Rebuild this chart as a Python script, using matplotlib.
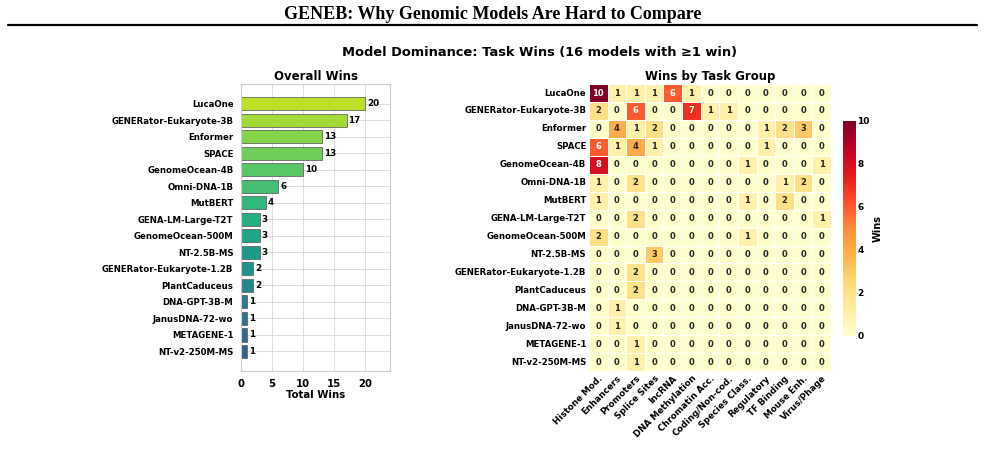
import numpy as np
import matplotlib.pyplot as plt
from matplotlib.lines import Line2D
import seaborn as sns

# modelos y grupos de tareas
models = ['LucaOne', 'GENERator-Eukaryote-3B', 'Enformer', 'SPACE', 'GenomeOcean-4B',
          'Omni-DNA-1B', 'MutBERT', 'GENA-LM-Large-T2T', 'GenomeOcean-500M', 'NT-2.5B-MS',
          'GENERator-Eukaryote-1.2B', 'PlantCaduceus', 'DNA-GPT-3B-M', 'JanusDNA-72-wo',
          'METAGENE-1', 'NT-v2-250M-MS']
groups = ['Histone Mod.', 'Enhancers', 'Promoters', 'Splice Sites', 'lncRNA',
          'DNA Methylation', 'Chromatin Acc.', 'Coding/Non-cod.', 'Species Class.',
          'Regulatory', 'TF Binding', 'Mouse Enh.', 'Virus/Phage']

# victorias por grupo (filas = modelos)
wins = [
    [10, 1, 1, 1, 6, 1, 0, 0, 0, 0, 0, 0, 0],
    [2, 0, 6, 0, 0, 7, 1, 1, 0, 0, 0, 0, 0],
    [0, 4, 1, 2, 0, 0, 0, 0, 0, 1, 2, 3, 0],
    [6, 1, 4, 1, 0, 0, 0, 0, 0, 1, 0, 0, 0],
    [8, 0, 0, 0, 0, 0, 0, 0, 1, 0, 0, 0, 1],
    [1, 0, 2, 0, 0, 0, 0, 0, 0, 0, 1, 2, 0],
    [1, 0, 0, 0, 0, 0, 0, 0, 1, 0, 2, 0, 0],
    [0, 0, 2, 0, 0, 0, 0, 0, 0, 0, 0, 0, 1],
    [2, 0, 0, 0, 0, 0, 0, 0, 1, 0, 0, 0, 0],
    [0, 0, 0, 3, 0, 0, 0, 0, 0, 0, 0, 0, 0],
    [0, 0, 2, 0, 0, 0, 0, 0, 0, 0, 0, 0, 0],
    [0, 0, 2, 0, 0, 0, 0, 0, 0, 0, 0, 0, 0],
    [0, 1, 0, 0, 0, 0, 0, 0, 0, 0, 0, 0, 0],
    [0, 1, 0, 0, 0, 0, 0, 0, 0, 0, 0, 0, 0],
    [0, 0, 1, 0, 0, 0, 0, 0, 0, 0, 0, 0, 0],
    [0, 0, 1, 0, 0, 0, 0, 0, 0, 0, 0, 0, 0],
]
total_wins = [20, 17, 13, 13, 10, 6, 4, 3, 3, 3, 2, 2, 1, 1, 1, 1]

sns.set_style('whitegrid')
plt.rcParams['font.family'] = ['DejaVu Sans']
plt.rcParams['font.weight'] = 'bold'
for k in ['text.color', 'axes.labelcolor', 'xtick.color', 'ytick.color']:
    plt.rcParams[k] = 'black'

fig = plt.figure(figsize=(9.85, 4.57), dpi=100)

# titulo de la pagina
fig.text(0.5, 0.968, 'GENEB: Why Genomic Models Are Hard to Compare', ha='center', va='center',
         family='Liberation Serif', fontsize=13, fontweight='bold')
fig.add_artist(Line2D([0.008, 0.992], [0.945, 0.945], color='black', lw=1.6))
fig.text(0.548, 0.886, 'Model Dominance: Task Wins (16 models with \u22651 win)', ha='center',
         va='center', fontsize=9.4, fontweight='bold')

# barras de victorias totales
ax1 = fig.add_axes([0.2447, 0.188, 0.1513, 0.628])
colores = plt.cm.viridis(np.linspace(0.3, 0.9, len(models)))[::-1]
ypos = np.arange(len(models))
ax1.barh(ypos, total_wins, color=colores, edgecolor='#666666', linewidth=0.6, height=0.8)
for i, v in enumerate(total_wins):
    ax1.text(v + 0.3, i, str(v), va='center', ha='left', fontsize=6.3, fontweight='bold')
ax1.set_yticks(ypos)
ax1.set_yticklabels(models, fontsize=6.2, fontweight='bold')
ax1.invert_yaxis()
ax1.set_xlim(0, 24)
ax1.set_xticks([0, 5, 10, 15, 20])
ax1.tick_params(axis='x', labelsize=7.3, pad=2)
ax1.tick_params(axis='y', pad=2)
ax1.set_xlabel('Total Wins', fontsize=7.3, fontweight='bold', labelpad=1)
ax1.set_title('Overall Wins', fontsize=8.5, fontweight='bold', pad=3)
for s in ax1.spines.values():
    s.set_color('#cccccc')
ax1.grid(True, color='#dddddd', lw=0.7)

# mapa de calor por grupo de tareas
ax2 = fig.add_axes([0.598, 0.188, 0.2457, 0.628])
cax = fig.add_axes([0.8558, 0.2648, 0.0132, 0.4705])
sns.heatmap(np.array(wins), ax=ax2, cbar_ax=cax, cmap='YlOrRd', vmin=0, vmax=10,
            annot=True, fmt='d', annot_kws={'fontsize': 6, 'fontweight': 'bold'},
            linewidths=0.5, linecolor='white', xticklabels=groups, yticklabels=models)
ax2.set_title('Wins by Task Group', fontsize=8.5, fontweight='bold', pad=3)
ax2.set_xticklabels(groups, rotation=45, ha='right', rotation_mode='anchor',
                    fontsize=6.3, fontweight='bold')
ax2.set_yticklabels(models, rotation=0, fontsize=6.2, fontweight='bold')
ax2.tick_params(length=0, pad=2)
cax.tick_params(labelsize=6.5, length=0, pad=1)
cax.set_ylabel('Wins', fontsize=7, fontweight='bold', labelpad=2)
cax.set_yticks([0, 2, 4, 6, 8, 10])

fig.savefig('out.png', dpi=100)
